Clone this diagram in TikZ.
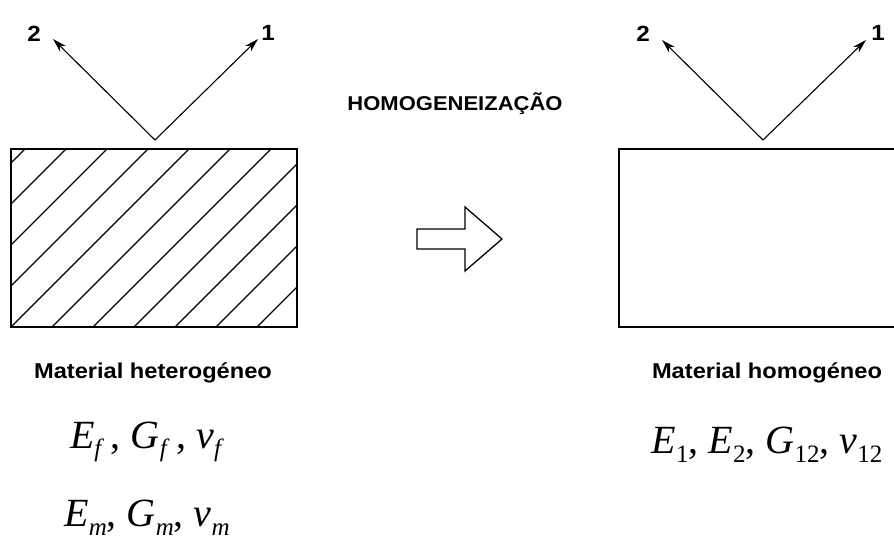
\documentclass[tikz,border=0pt]{standalone}
\usepackage{fontspec}
\setmainfont{Liberation Serif}
\newfontfamily\lblfont[FakeStretch=1.1]{Liberation Sans}
\usetikzlibrary{arrows.meta}
\newcommand\symb[2]{\textit{#1}\raisebox{-0.22em}{\fontsize{25}{25}\selectfont #2}}
\tikzset{
  axis/.style={line width=1.1pt,-{Stealth[length=14pt,width=8pt]}},
  box/.style={draw,line width=1.6pt,minimum height=178pt,inner sep=0pt},
  hatchline/.style={line width=1.1pt},
  axlabel/.style={font=\lblfont\bfseries\fontsize{22}{22}\selectfont,inner sep=0pt},
  title/.style={font=\lblfont\bfseries\fontsize{20}{20}\selectfont,inner sep=0pt},
  mat/.style={font=\lblfont\bfseries\fontsize{21.5}{21.5}\selectfont,inner sep=0pt},
  formula/.style={font=\fontsize{40}{40}\selectfont,inner sep=0pt},
  bigarrow/.style={draw,line width=1.3pt,line join=miter}
}
\begin{document}
\begin{tikzpicture}[x=1pt,y=-1pt]
\useasboundingbox[fill=white] (0,0) rectangle (894,543);
% left block
\node[box,minimum width=286pt] (het) at (154,238) {};
\begin{scope}
  \clip (11,149) rectangle (297,327);
  \foreach \k in {-5,...,7} {
    \draw[hatchline] ({11+41*\k},327) -- ++(200,-200);
  }
\end{scope}
\coordinate (oL) at (155,140);
\coordinate (aL1) at (258,39);
\coordinate (aL2) at (53,39);
\draw[axis] (oL) -- (aL1);
\draw[axis] (oL) -- (aL2);
\node[axlabel] (nL1) at (268,33) {1};
\node[axlabel] (nL2) at (34,34) {2};
% right block
\node[box,minimum width=290pt] (hom) at (764,238) {};
\coordinate (oR) at (763,140);
\coordinate (aR1) at (866,40);
\coordinate (aR2) at (662,40);
\draw[axis] (oR) -- (aR1);
\draw[axis] (oR) -- (aR2);
\node[axlabel] (nR1) at (878,33) {1};
\node[axlabel] (nR2) at (643,34) {2};
% middle
\node[title] (tit) at (455,104) {HOMOGENEIZAÇÃO};
\coordinate (ba) at (417,229);
\draw[bigarrow] (ba) -- (465,229) -- (465,207) -- (502,239) -- (465,271) -- (465,249) -- (417,249) -- cycle;
% labels
\node[mat] (mhet) at (153,373) {Material heterogéneo};
\node[mat] (mhom) at (767,373) {Material homogéneo};
\node[formula] (fhet1) at (147,442) {\symb{E}{\textit{f}}\,, \symb{G}{\textit{f}}\,, \symb{ν}{\textit{f}}};
\node[formula] (fhet2) at (147,518) {\symb{E}{\textit{m}}, \symb{G}{\textit{m}}, \symb{ν}{\textit{m}}};
\node[formula] (fhom) at (767,445) {\symb{E}{1}, \symb{E}{2}, \symb{G}{12}, \symb{ν}{12}};
\end{tikzpicture}
\end{document}
